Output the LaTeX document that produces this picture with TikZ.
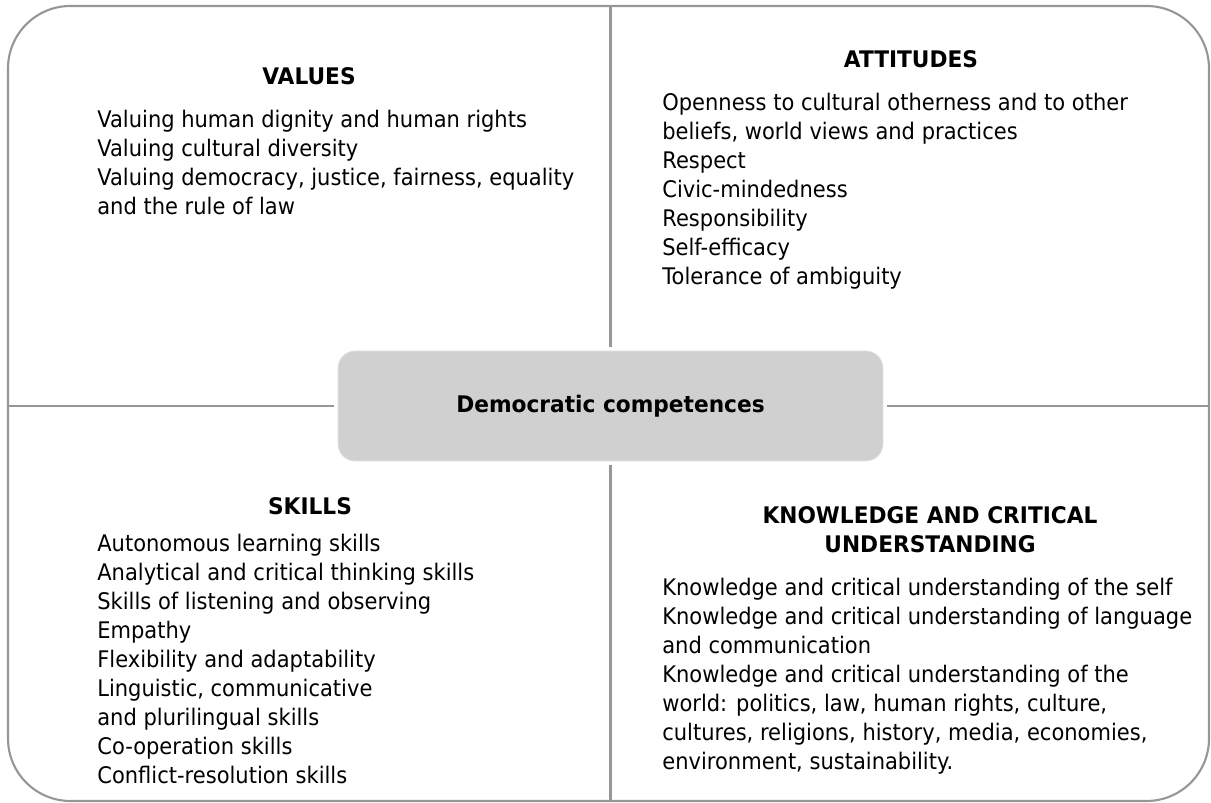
\documentclass[tikz,border=0pt]{standalone}
\usepackage{fontspec}
\setmainfont{DejaVu Sans}[FakeStretch=0.92,BoldFeatures={FakeStretch=0.95}]
\usetikzlibrary{positioning}
\definecolor{rimgray}{RGB}{150,150,150}
\definecolor{coregray}{RGB}{208,208,208}
\newcommand\panelfont{\fontsize{13}{16.5}\selectfont}

\begin{document}
\begin{tikzpicture}[
head/.style={font=\panelfont\bfseries,inner sep=0pt,anchor=base,align=center},
list/.style={font=\panelfont,inner sep=0pt,anchor=north west,align=left},
core/.style={rectangle,rounded corners=0.34cm,fill=coregray,draw=coregray!60!white,thin,minimum width=10.9cm,minimum height=2.2cm,font=\panelfont\bfseries},
rim/.style={draw=rimgray,line width=1.2pt}]
\useasboundingbox (0,0) rectangle (24.22,16.06);
\coordinate(tl) at (0.16,15.94);
\coordinate(br) at (24.18,0.04);
\draw[rim, rounded corners=1.25cm] (tl) rectangle (br);

\node[core](core) at (12.21,7.94){Democratic competences};

\begin{scope}[rim, shorten <=1.8pt]
 \draw (core.north) -- (core.north |- tl);
 \draw (core.south) -- (core.south |- br);
 \draw (core.west) -- (core.west -| tl);
 \draw (core.east) -- (core.east -| br);
\end{scope}

% values
\node[head](values-head) at (6.18,14.36){VALUES};
\node[list](values-list) at (1.94,13.87){Valuing human dignity and human rights\\
Valuing cultural diversity\\
Valuing democracy, justice, fairness, equality\\
and the rule of law};

% attitudes
\node[head](attitudes-head) at (18.22,14.70){ATTITUDES};
\node[list](attitudes-list) at (13.24,14.21){Openness to cultural otherness and to other\\
beliefs, world views and practices\\
Respect\\
Civic-mindedness\\
Responsibility\\
Self-efficacy\\
Tolerance of ambiguity};

% skills
\node[head](skills-head) at (6.20,5.76){SKILLS};
\node[list](skills-list) at (1.94,5.39){Autonomous learning skills\\
Analytical and critical thinking skills\\
Skills of listening and observing\\
Empathy\\
Flexibility and adaptability\\
Linguistic, communicative\\
and plurilingual skills\\
Co-operation skills\\
Conflict-resolution skills};

% knowledge
\node[head, anchor=north](knowledge-head) at (18.60,5.93){KNOWLEDGE AND CRITICAL\\UNDERSTANDING};
\node[list](knowledge-list) at (13.24,4.51){Knowledge and critical understanding of the self\\
Knowledge and critical understanding of language\\
and communication\\
Knowledge and critical understanding of the\\
world: politics, law, human rights, culture,\\
cultures, religions, history, media, economies,\\
environment, sustainability.};
\end{tikzpicture}
\end{document}
